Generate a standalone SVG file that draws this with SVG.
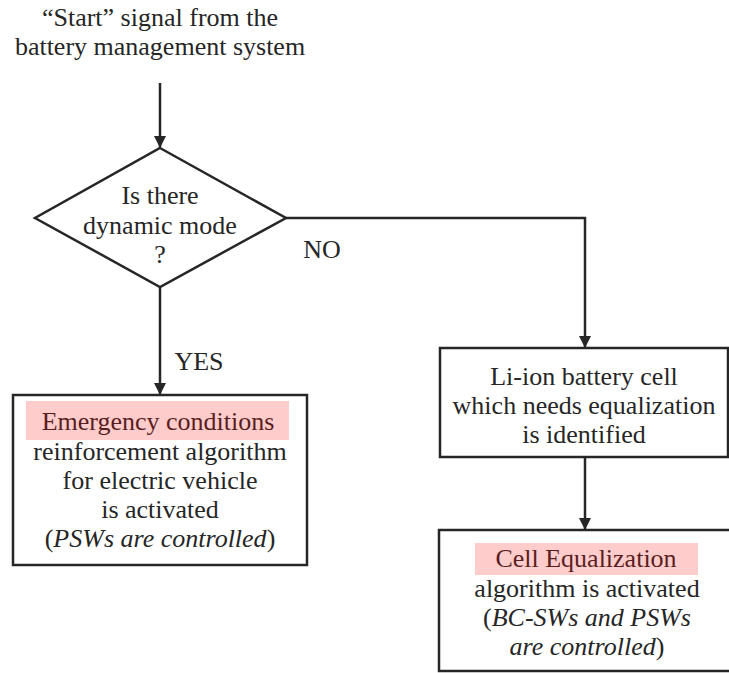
<svg xmlns="http://www.w3.org/2000/svg" width="729" height="673" viewBox="0 0 729 673">
<style>
text{font-family:"Times New Roman","Liberation Serif",Tinos,serif;font-size:26px;fill:#262626;text-anchor:middle}
.hl{fill:#5a1e1e}
.it{font-style:italic}
.shape{fill:#fff;stroke:#262626;stroke-width:2.5}
.conn{fill:none;stroke:#262626;stroke-width:2.5}
.hbg{fill:#ffcccc}
</style>
<defs>
<marker id="arr" viewBox="0 0 12 12" refX="11" refY="6" markerWidth="12" markerHeight="12" markerUnits="userSpaceOnUse" orient="auto">
<path d="M0,0 L12,6 L0,12 Z" fill="#262626"/>
</marker>
</defs>
<g id="start">
<text x="160" y="26">“Start” signal from the</text>
<text x="160" y="55">battery management system</text>
</g>
<g id="decision">
<polygon class="shape" points="160,148 286,218 160,287 35,218"/>
<text x="160" y="204">Is there</text>
<text x="160" y="234">dynamic mode</text>
<text x="160" y="263">?</text>
</g>
<g id="emergency">
<rect class="shape" x="13" y="395" width="294" height="170"/>
<rect class="hbg" x="26" y="401" width="263" height="39"/>
<text class="hl" x="158" y="430">Emergency conditions</text>
<text x="160" y="460">reinforcement algorithm</text>
<text x="160" y="489">for electric vehicle</text>
<text x="160" y="518">is activated</text>
<text x="160" y="547">(<tspan class="it">PSWs are controlled</tspan>)</text>
</g>
<g id="identify">
<rect class="shape" x="440" y="348" width="288" height="109"/>
<text x="584" y="385">Li-ion battery cell</text>
<text x="584" y="414">which needs equalization</text>
<text x="584" y="443">is identified</text>
</g>
<g id="equalization">
<rect class="shape" x="439" y="530" width="300" height="141"/>
<rect class="hbg" x="475" y="543" width="223" height="32"/>
<text class="hl" x="586" y="567">Cell Equalization</text>
<text x="587" y="597">algorithm is activated</text>
<text x="587" y="626">(<tspan class="it">BC-SWs and PSWs</tspan></text>
<text x="587" y="655"><tspan class="it">are controlled</tspan>)</text>
</g>
<g id="connectors">
<line class="conn" x1="160" y1="83" x2="160" y2="147" marker-end="url(#arr)"/>
<line class="conn" x1="160" y1="287" x2="160" y2="394" marker-end="url(#arr)"/>
<polyline class="conn" points="286,218 585,218 585,347" marker-end="url(#arr)"/>
<line class="conn" x1="585" y1="457" x2="585" y2="529" marker-end="url(#arr)"/>
<text x="199" y="370">YES</text>
<text x="322" y="258">NO</text>
</g>
</svg>
